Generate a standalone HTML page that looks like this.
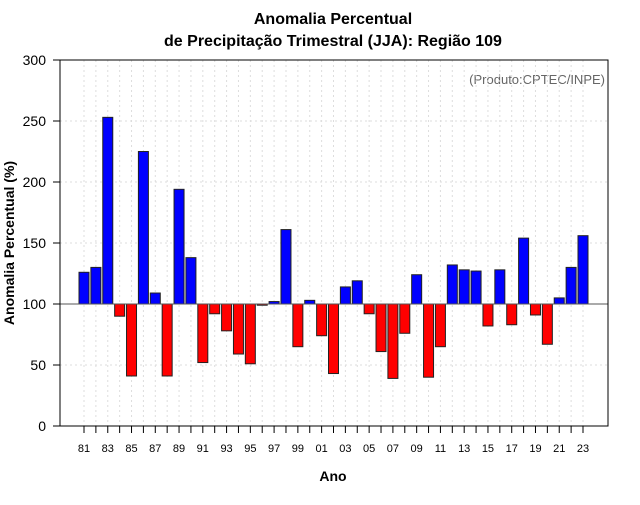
<!DOCTYPE html>
<html><head><meta charset="utf-8"><style>
body{margin:0;background:#fff}
svg text{font-family:"Liberation Sans",sans-serif}
</style></head><body>
<svg width="640" height="500" id="c">
<text x="333" y="24" text-anchor="middle" font-size="16" font-weight="bold">Anomalia Percentual</text>
<text x="333" y="46" text-anchor="middle" font-size="16" font-weight="bold">de Precipitação Trimestral (JJA): Região 109</text>
<text x="605" y="84" text-anchor="end" font-size="13" fill="#666">(Produto:CPTEC/INPE)</text>
<text x="333" y="481" text-anchor="middle" font-size="14" font-weight="bold">Ano</text>
<text transform="translate(14,243) rotate(-90)" text-anchor="middle" font-size="14" font-weight="bold">Anomalia Percentual (%)</text>
<g id="grid"></g><g id="bars"></g><g id="axes"></g>
<rect x="60" y="60" width="548" height="366" fill="none" stroke="#000"/>
</svg>
<script>
const years=[81,82,83,84,85,86,87,88,89,90,91,92,93,94,95,96,97,98,99,0,1,2,3,4,5,6,7,8,9,10,11,12,13,14,15,16,17,18,19,20,21,22,23];
const values=[126,130,253,90,41,225,109,41,194,138,52,92,78,59,51,99,102,161,65,103,74,43,114,119,92,61,39,76,124,40,65,132,128,127,82,128,83,154,91,67,105,130,156];
const yTicks=[0,50,100,150,200,250,300];
const NS='http://www.w3.org/2000/svg';
const y=v=>426-v*366/300;
const x=i=>84+i*(583-84)/42;
function mk(tag,at,parent){const e=document.createElementNS(NS,tag);for(const k in at)e.setAttribute(k,at[k]);document.getElementById(parent).appendChild(e);return e;}
yTicks.forEach(t=>{
 const g=mk('line',{x1:60,x2:608,y1:y(t),y2:y(t),stroke:'#ddd','stroke-dasharray':'2,3'},'grid');
 
 
 const tk=mk('line',{x1:53,x2:60,y1:y(t),y2:y(t),stroke:'#000'},'axes');
 
 
 const tl=mk('text',{x:46,y:y(t)+5,'text-anchor':'end','font-size':14},'axes');
 tl.textContent=t;
 
 
});
years.forEach((yr,i)=>{
 const g=mk('line',{x1:x(i),x2:x(i),y1:60,y2:426,stroke:'#ddd','stroke-dasharray':'2,3'},'grid');
 
 
 const v=values[i];
 const b=mk('rect',{x:x(i)-5,width:10,y:Math.min(y(v),y(100)),height:Math.abs(y(v)-y(100)),fill:v>=100?'#0000ff':'#ff0000',stroke:'#222','stroke-width':1},'bars');
 
 
 const tk=mk('line',{x1:x(i),x2:x(i),y1:426,y2:433,stroke:'#000'},'axes');
 
 
 if(i%2===0){
  const tl=mk('text',{x:x(i),y:452,'text-anchor':'middle','font-size':11},'axes');
  tl.textContent=String(yr).padStart(2,'0');
  
  
 }
});
const base=mk('line',{x1:60,x2:608,y1:y(100),y2:y(100),stroke:'#555'},'axes');


</script>
</body></html>
